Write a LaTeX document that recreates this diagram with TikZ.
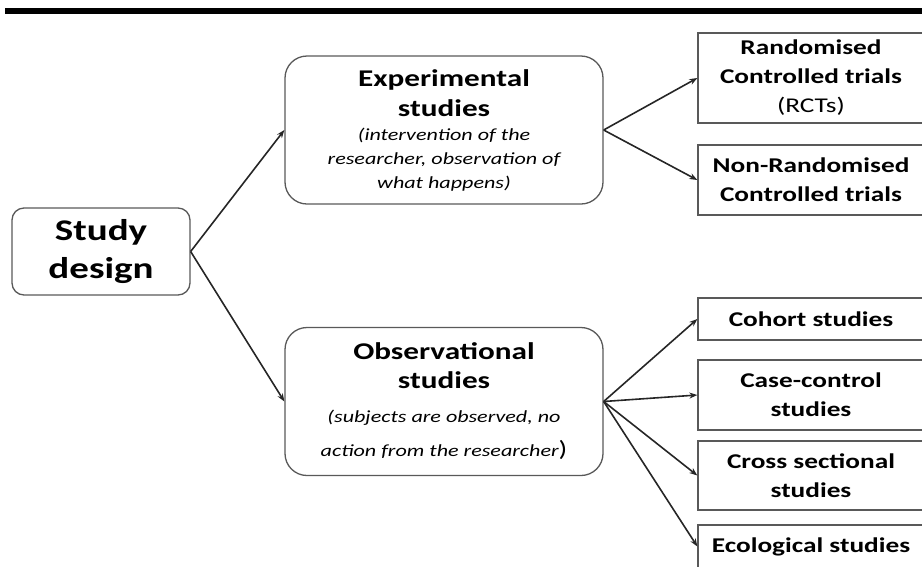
\documentclass[tikz,border=0pt]{standalone}
\usepackage{fontspec}
\setmainfont{Carlito}[FakeStretch=1.3]
\usetikzlibrary{arrows.meta, positioning}

\begin{document}
\begin{tikzpicture}[x=1pt, y=-1pt,
  >={Stealth[length=8pt, width=6pt]},
  every node/.style={inner sep=0pt, align=flush center},
  rootbox/.style={draw=black!65, line width=1.3pt, rounded corners=12pt,
    minimum width=178pt, minimum height=87pt, text width=172pt,
    font=\fontsize{30}{38}\selectfont\bfseries},
  groupbox/.style={draw=black!65, line width=1.3pt, rounded corners=22pt,
    minimum width=318pt, minimum height=148pt, text width=312pt},
  leafbox/.style={draw=black!65, line width=1.3pt,
    minimum width=226pt, text width=222pt,
    font=\fontsize{21}{29}\selectfont\bfseries},
  link/.style={->, line width=1.6pt, black!85}]
  \useasboundingbox (0,0) rectangle (922,566);
  \fill[black] (5,8) rectangle (922,14);

  \node[rootbox] (design) at (101,251.5) {Study\\design};

  \node[groupbox] (exper) at (444,130)
    {\fontsize{24}{30}\selectfont\bfseries Experimental\\studies\par
     \fontsize{17}{24}\selectfont\mdseries\itshape
     (intervention of the\\researcher, observation of\\what happens)\par};
  \node[groupbox] (obser) at (444,401.5)
    {\fontsize{24}{29}\selectfont\bfseries Observational\\studies\par
     \fontsize{17}{34}\selectfont\mdseries\itshape
     (subjects are observed, no\\action from the researcher{\upshape\fontsize{22}{34}\selectfont)}\par};

  \node[leafbox, minimum height=90pt] (rct) at (811,78)
    {Randomised\\Controlled trials\\\mdseries(RCTs)};
  \node[leafbox, minimum height=70pt] (nonrct) at (811,180)
    {Non-Randomised\\Controlled trials};
  \node[leafbox, minimum height=42pt] (cohort) at (811,319) {Cohort studies};
  \node[leafbox, minimum height=70pt] (casectl) at (811,395)
    {Case-control\\studies};
  \node[leafbox, minimum height=69pt] (cross) at (811,475.5)
    {Cross sectional\\studies};
  \node[leafbox, minimum height=43pt] (ecolog) at (811,546.5)
    {Ecological studies};

  \draw[link] (design.east) -- (exper.west);
  \draw[link] (design.east) -- (obser.west);
  \draw[link] (exper.east) -- (rct.west);
  \draw[link] (exper.east) -- (nonrct.west);
  \draw[link] (obser.east) -- (cohort.west);
  \draw[link] (obser.east) -- (casectl.west);
  \draw[link] (obser.east) -- (cross.west);
  \draw[link] (obser.east) -- (ecolog.west);
\end{tikzpicture}
\end{document}
